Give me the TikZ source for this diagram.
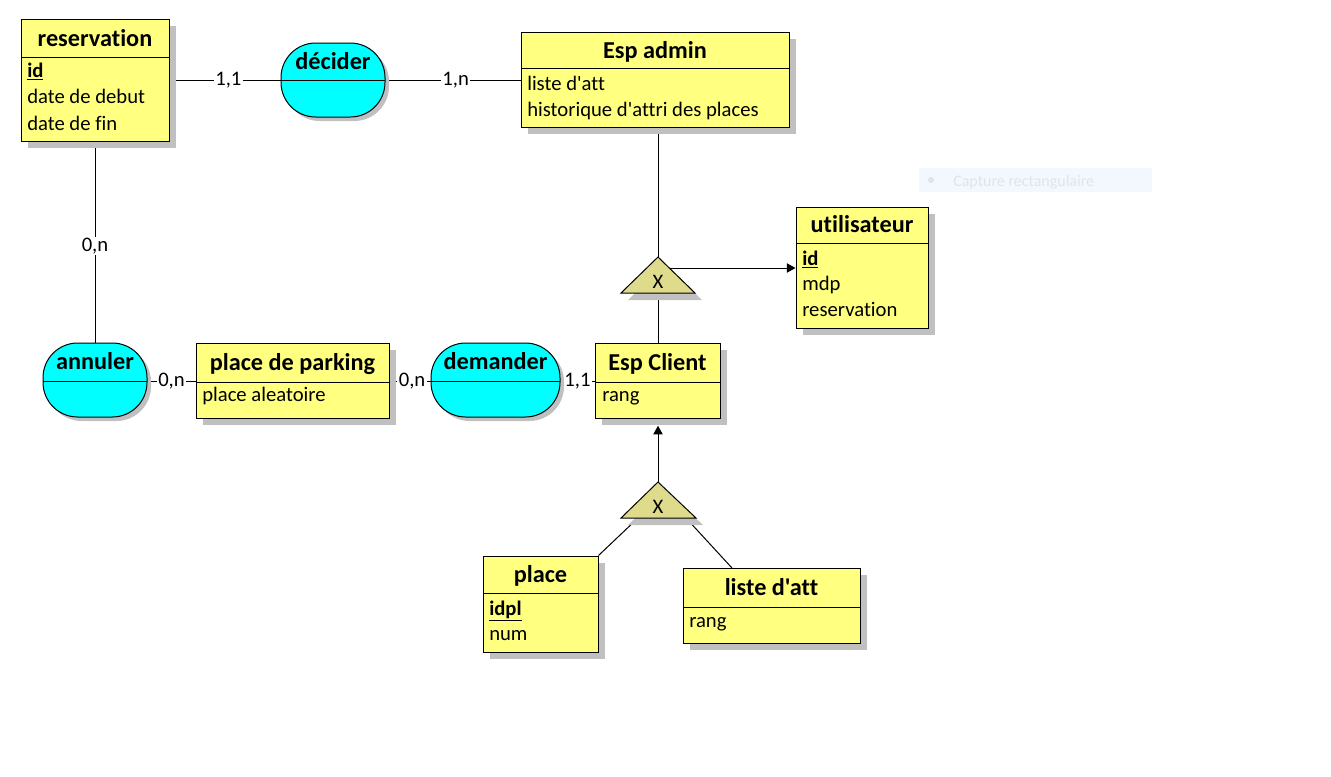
\documentclass[tikz,border=0pt]{standalone}
\usepackage{fontspec}
\setmainfont{Carlito}[Ligatures=NoCommon]
\newfontfamily\carl{Carlito}[Ligatures=NoCommon]
\usetikzlibrary{fit,shadows,arrows.meta,calc}
\definecolor{entfill}{RGB}{255,255,128}
\definecolor{assfill}{RGB}{0,255,255}
\definecolor{shadowgray}{RGB}{192,192,192}
\definecolor{trifill}{RGB}{222,220,140}
\definecolor{ghostfill}{RGB}{243,248,255}
\definecolor{ghosttext}{RGB}{224,228,234}
\pgfdeclarelayer{bg}
\pgfsetlayers{bg,main}
\newcommand{\bodyfnt}{\carl\fontsize{15.5pt}{18pt}\selectfont}
\newcommand{\titlefnt}{\carl\fontsize{18.2pt}{22pt}\selectfont\bfseries}
\newcommand{\ghostfnt}{\carl\fontsize{12pt}{14pt}\selectfont}
\begin{document}
\begin{tikzpicture}[x=0.75pt,y=-0.75pt,
  entity/.style={draw=black, line width=0.75pt, fill=entfill, inner sep=0pt,
    drop shadow={shadow xshift=5.4pt, shadow yshift=-5.4pt, fill=shadowgray, opacity=1}},
  assoc/.style={draw=black, line width=0.75pt, fill=assfill, inner sep=0pt, rounded corners=26pt,
    drop shadow={shadow xshift=3pt, shadow yshift=-3pt, fill=shadowgray, opacity=1}},
  sepline/.style={line width=0.75pt},
  title/.style={anchor=base, inner sep=0pt, font=\titlefnt},
  attr/.style={anchor=base west, inner sep=0pt, font=\bodyfnt},
  card/.style={fill=white, inner sep=1pt, font=\bodyfnt},
  link/.style={line width=0.75pt},
  arrowlink/.style={line width=0.75pt, -{Triangle[length=6.5pt,width=7pt]}},
  tri/.style={draw=black, line width=0.75pt, fill=trifill},
  trishadow/.style={fill=shadowgray},
  xlabel/.style={inner sep=0pt, font=\bodyfnt},
]
\useasboundingbox (0,0) rectangle (1331,776);

% ghost screenshot artefact
\node[fill=ghostfill, inner sep=0pt, fit={(919,168) (1152,192)}] (ghost) {};
\fill[ghosttext] (931,180) circle (3);
\node[anchor=base west, inner sep=0pt, font=\ghostfnt, text=ghosttext] (ghostT) at (953,186) {Capture rectangulaire};

% reservation
\node[entity, fit={(21,19) (169,141)}] (res) {};
\draw[sepline] (21,57) -- (169,57);
\node[title] (resT) at (95,46) {reservation};
\node[attr] (resA1) at (27,77) {\underline{\textbf{id}}};
\node[attr] (resA2) at (27,103.5) {date de debut};
\node[attr] (resA3) at (27,130) {date de fin};

% Esp admin
\node[entity, fit={(521,32) (789,127)}] (admin) {};
\draw[sepline] (521,68) -- (789,68);
\node[title] (adminT) at (655,58) {Esp admin};
\node[attr] (adminA1) at (527,90) {liste d'att};
\node[attr] (adminA2) at (527,116) {historique d'attri des places};

% utilisateur
\node[entity, fit={(796,207) (928,328)}] (user) {};
\draw[sepline] (796,243) -- (928,243);
\node[title] (userT) at (862,232.3) {utilisateur};
\node[attr] (userA1) at (802,265) {\underline{\textbf{id}}};
\node[attr] (userA2) at (802,290.7) {mdp};
\node[attr] (userA3) at (802,316) {reservation};

% place de parking
\node[entity, fit={(196,343) (389,418)}] (park) {};
\draw[sepline] (196,382) -- (389,382);
\node[title] (parkT) at (292.5,370.5) {place de parking};
\node[attr] (parkA1) at (202,401.7) {place aleatoire};

% Esp Client
\node[entity, fit={(595,343) (720,418)}] (client) {};
\draw[sepline] (595,382) -- (720,382);
\node[title] (clientT) at (657.5,370) {Esp Client};
\node[attr] (clientA1) at (602,401.7) {rang};

% place
\node[entity, fit={(483,556) (598,652)}] (place) {};
\draw[sepline] (483,593) -- (598,593);
\node[title] (placeT) at (540.5,582.3) {place};
\node[attr] (placeA1) at (489,615) {\underline{\textbf{idpl}}};
\node[attr] (placeA2) at (489,640.7) {num};

% liste d'att
\node[entity, fit={(683,568) (860,643)}] (liste) {};
\draw[sepline] (683,607) -- (860,607);
\node[title] (listeT) at (771.5,595) {liste d'att};
\node[attr] (listeA1) at (689,627.3) {rang};

% associations
\node[assoc, fit={(281,43) (385,117)}] (dec) {};
\draw[sepline] (281,80) -- (385,80);
\node[title] (decT) at (333,69) {décider};

\node[assoc, fit={(43,343) (147,417)}] (ann) {};
\draw[sepline] (43,381) -- (147,381);
\node[title] (annT) at (95,369) {annuler};

\node[assoc, fit={(431,343) (560,417)}] (dem) {};
\draw[sepline] (431,381) -- (560,381);
\node[title] (demT) at (495.5,369) {demander};

% triangles
\coordinate (t1a) at (658,257);
\coordinate (t1l) at (621,293);
\coordinate (t1r) at (695,293);
\fill[trishadow] ($(t1a)+(7,7)$) -- ($(t1r)+(7,7)$) -- ($(t1l)+(7,7)$) -- cycle;
\draw[tri] (t1a) -- (t1r) -- (t1l) -- cycle;
\node[xlabel] (t1) at (658,281.5) {X};

\coordinate (t2a) at (658,482);
\coordinate (t2l) at (621,518);
\coordinate (t2r) at (696,518);
\fill[trishadow] ($(t2a)+(7,7)$) -- ($(t2r)+(7,7)$) -- ($(t2l)+(7,7)$) -- cycle;
\draw[tri] (t2a) -- (t2r) -- (t2l) -- cycle;
\node[xlabel] (t2) at (658,507) {X};

% connectors
\coordinate (row1) at (0,80);
\coordinate (row2) at (0,381);
\coordinate (t1o) at (670,268);
\coordinate (t2pl) at (638,518);
\coordinate (t2pr) at (686,518);
\coordinate (lstop) at (732,568);
\begin{pgfonlayer}{bg}
\draw[link] (res.east |- row1) -- node[card, pos=0.53] (c1) {1,1} (dec.west |- row1);
\draw[link] (dec.east |- row1) -- node[card, pos=0.52] (c2) {1,n} (admin.west |- row1);
\draw[link] (res.south) -- node[card, pos=0.52] (c3) {0,n} (ann.north);
\draw[link] (ann.east |- row2) -- node[card] (c4) {0,n} (park.west |- row2);
\draw[link] (park.east |- row2) -- node[card, pos=0.55] (c5) {0,n} (dem.west |- row2);
\draw[link] (dem.east |- row2) -- node[card] (c6) {1,1} (client.west |- row2);
\draw[link] (t1a |- admin.south) -- (t1a);
\draw[link] (t1a |- t1l) -- (t1a |- client.north);
\draw[link] (place.north east) -- (t2pl);
\draw[link] (lstop) -- (t2pr);
\end{pgfonlayer}
\draw[arrowlink] (t1o) -- (user.west |- t1o);
\draw[arrowlink, shorten >=5.4pt] (t2a) -- (t2a |- client.south);
\end{tikzpicture}
\end{document}
